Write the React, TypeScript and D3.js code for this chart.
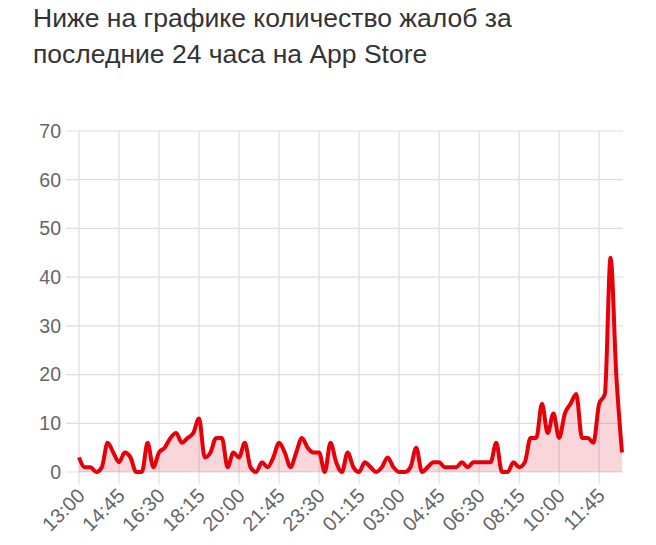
import { useEffect, useRef } from "react";
import * as d3 from "d3";

const title = ["Ниже на графике количество жалоб за", "последние 24 часа на App Store"];

// complaints per 15 minutes, starting 13:00
const complaints = [
  3, 1, 1, 0, 1, 6, 4, 2, 4, 3, 0, 0, 6, 1, 4, 5, 7, 8, 6, 7, 8, 11, 3, 4,
  7, 7, 1, 4, 3, 6, 1, 0, 2, 1, 3, 6, 4, 1, 4, 7, 5, 4, 4, 0, 6, 2, 0, 4,
  1, 0, 2, 1, 0, 1, 3, 1, 0, 0, 1, 5, 0, 1, 2, 2, 1, 1, 1, 2, 1, 2, 2, 2,
  2, 6, 0, 0, 2, 1, 2, 7, 7, 14, 8, 12, 7, 12, 14, 16, 7, 7, 6, 14, 16, 44, 20, 4,
];

const tickLabels = [
  "13:00", "14:45", "16:30", "18:15", "20:00", "21:45", "23:30",
  "01:15", "03:00", "04:45", "06:30", "08:15", "10:00", "11:45",
];

const yTicks = [0, 10, 20, 30, 40, 50, 60, 70];

const width = 656;
const height = 545;

function timeLabel(i: number) {
  const minutes = (13 * 60 + i * 15) % (24 * 60);
  const h = Math.floor(minutes / 60);
  const m = minutes % 60;
  return `${String(h).padStart(2, "0")}:${String(m).padStart(2, "0")}`;
}

export default function App() {
  const svgRef = useRef<SVGSVGElement>(null);

  useEffect(() => {
    if (!svgRef.current) return;
    const svg = d3.select(svgRef.current);
    svg.selectAll("*").remove();

    const margin = { top: 131, right: 34, bottom: 73, left: 79 };
    const innerWidth = width - margin.left - margin.right;
    const innerHeight = height - margin.top - margin.bottom;
    const font = "'Liberation Sans', Arial, sans-serif";

    const times = complaints.map((_, i) => timeLabel(i));

    const x = d3.scalePoint<string>().domain(times).range([0, innerWidth]);
    const y = d3.scaleLinear().domain([0, 70]).range([innerHeight, 0]);

    // Title
    svg
      .append("text")
      .attr("x", 33)
      .attr("y", 27)
      .style("font-family", font)
      .style("font-size", "26.5px")
      .style("fill", "#333")
      .selectAll("tspan")
      .data(title)
      .join("tspan")
      .attr("x", 33)
      .attr("dy", (_, i) => (i === 0 ? 0 : 36))
      .text((d) => d);

    const g = svg
      .append("g")
      .attr("transform", `translate(${margin.left},${margin.top})`);

    // horizontal grid + y labels
    g.append("g")
      .selectAll("line")
      .data(yTicks)
      .join("line")
      .attr("x1", -13)
      .attr("x2", innerWidth + 1)
      .attr("y1", (d) => y(d))
      .attr("y2", (d) => y(d))
      .attr("stroke", "#ddd")
      .attr("stroke-width", 1.2);

    g.append("g")
      .selectAll("text")
      .data(yTicks)
      .join("text")
      .attr("x", -18)
      .attr("y", (d) => y(d))
      .attr("dy", "0.35em")
      .attr("text-anchor", "end")
      .style("font-family", font)
      .style("font-size", "19.5px")
      .style("fill", "#666")
      .text((d) => d);

    // vertical grid + x labels
    g.append("g")
      .selectAll("line")
      .data(tickLabels)
      .join("line")
      .attr("x1", (d) => x(d)!)
      .attr("x2", (d) => x(d)!)
      .attr("y1", 0)
      .attr("y2", innerHeight + 12)
      .attr("stroke", "#ddd")
      .attr("stroke-width", 1.2);

    g.append("g")
      .selectAll("text")
      .data(tickLabels)
      .join("text")
      .attr("text-anchor", "end")
      .attr("transform", (d) => `translate(${x(d)! + 7},${innerHeight + 25}) rotate(-45)`)
      .style("font-family", font)
      .style("font-size", "20px")
      .style("fill", "#666")
      .text((d) => d);

    const area = d3
      .area<number>()
      .x((_, i) => x(times[i])!)
      .y0(y(0))
      .y1((d) => y(d))
      .curve(d3.curveMonotoneX);

    const line = d3
      .line<number>()
      .x((_, i) => x(times[i])!)
      .y((d) => y(d))
      .curve(d3.curveMonotoneX);

    g.append("path")
      .datum(complaints)
      .attr("fill", "rgba(215, 0, 20, 0.16)")
      .attr("d", area);

    g.append("path")
      .datum(complaints)
      .attr("fill", "none")
      .attr("stroke", "#e6000a")
      .attr("stroke-width", 4)
      .attr("stroke-linejoin", "round")
      .attr("d", line);
  }, []);

  return (
    <svg
      ref={svgRef}
      width={width}
      height={height}
      style={{ position: "absolute", left: 0, top: 0, background: "#fff" }}
    />
  );
}
